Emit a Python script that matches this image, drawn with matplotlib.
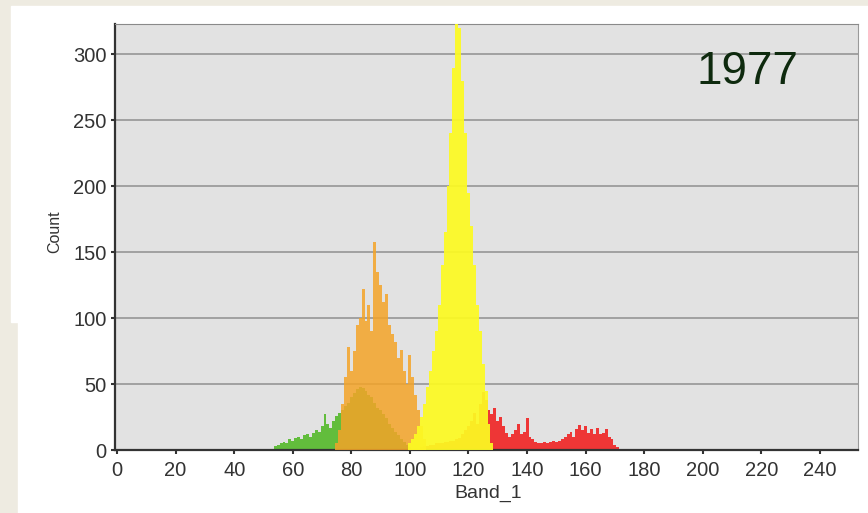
import matplotlib.pyplot as plt
from matplotlib.patches import Rectangle

# histogram counts per digital number (Band_1), one list per class
green_x = list(range(54, 101))
green_y = [3, 4, 5, 6, 5, 8, 7, 9, 10, 8, 11, 12, 10, 13, 15, 14, 18, 27, 20, 17,
           22, 26, 28, 30, 33, 36, 40, 43, 46, 48, 47, 45, 42, 40, 36, 32, 30, 27,
           24, 20, 17, 14, 11, 8, 6, 4, 2]

orange_x = list(range(75, 106))
orange_y = [5, 15, 35, 55, 78, 60, 75, 95, 100, 122, 98, 110, 90, 158, 135, 125,
            112, 118, 95, 88, 82, 70, 76, 60, 50, 72, 55, 42, 30, 18, 8]

yellow_x = list(range(100, 129))
yellow_y = [5, 8, 12, 18, 25, 35, 48, 60, 75, 90, 110, 140, 165, 200, 240, 290,
            335, 320, 280, 240, 195, 170, 140, 110, 90, 65, 45, 20, 5]

red_x = list(range(104, 172))
red_y = [2, 3, 3, 4, 4, 5, 5, 5, 6, 6, 7, 7, 8, 9, 12, 15, 18, 22, 28, 20, 35, 44,
         38, 30, 27, 32, 22, 25, 18, 13, 10, 12, 15, 20, 12, 14, 24, 10, 8, 6, 5,
         5, 6, 5, 6, 7, 6, 7, 8, 10, 12, 14, 10, 16, 19, 15, 18, 13, 16, 12, 17,
         12, 13, 16, 10, 8, 4, 2]

x_ticks = list(range(0, 241, 20))
y_ticks = [0, 50, 100, 150, 200, 250, 300]

fig = plt.figure(figsize=(8.68, 5.13), dpi=100, facecolor='#eeebe1')
H = 513.0
W = 868.0
fig.patches.append(Rectangle((11 / W, (H - 322) / H), 1, 316 / H,
                             transform=fig.transFigure, color='white', zorder=-5))
fig.patches.append(Rectangle((18 / W, 0), 1, (H - 322) / H,
                             transform=fig.transFigure, color='white', zorder=-5))

ax = fig.add_axes([115 / W, 1 - 450 / H, (858 - 115) / W, (450 - 24) / H])
ax.set_facecolor('#e2e2e2')

ax.bar(green_x, green_y, width=1.0, color='#62bd3c', linewidth=0, zorder=2)
ax.bar(red_x, red_y, width=1.0, color='#ee3636', linewidth=0, zorder=2)
ax.bar(orange_x, orange_y, width=1.0, color='#f4a428', alpha=0.85, linewidth=0, zorder=3)
ax.bar(yellow_x, yellow_y, width=1.0, color='#fcfa22', alpha=0.93, linewidth=0, zorder=4)

ax.set_xlim(-0.7, 253)
ax.set_ylim(0, 323)
ax.set_xticks(x_ticks)
ax.set_yticks(y_ticks)
ax.grid(True, axis='y', color='#9c9c9c', linewidth=1.3, zorder=1)
ax.set_axisbelow(True)

ax.tick_params(axis='both', direction='out', length=3, width=1.5, color='#333333',
               labelsize=14.5, labelcolor='#333333')
for lab in ax.get_xticklabels() + ax.get_yticklabels():
    lab.set_family('Liberation Sans')
ax.tick_params(axis='x', pad=5)
ax.tick_params(axis='y', pad=3)

ax.spines['left'].set_color('#333333')
ax.spines['bottom'].set_color('#333333')
ax.spines['left'].set_linewidth(1.6)
ax.spines['bottom'].set_linewidth(1.6)
ax.spines['top'].set_color('#8a8a8a')
ax.spines['right'].set_color('#9a9a9a')

fig.text(488 / W, 1 - 493 / H, 'Band_1', ha='center', va='center',
         family='Liberation Sans', fontsize=14, color='#333333')
fig.text(55 / W, 1 - 232 / H, 'Count', ha='center', va='center', rotation=90,
         family='Liberation Sans', fontsize=11.5, color='#333333')
fig.text(747 / W, 1 - 72 / H, '1977', ha='center', va='center',
         family='Liberation Sans', fontsize=33, color='#0e2a0e')

fig.savefig('out.png', dpi=100, facecolor=fig.get_facecolor())
